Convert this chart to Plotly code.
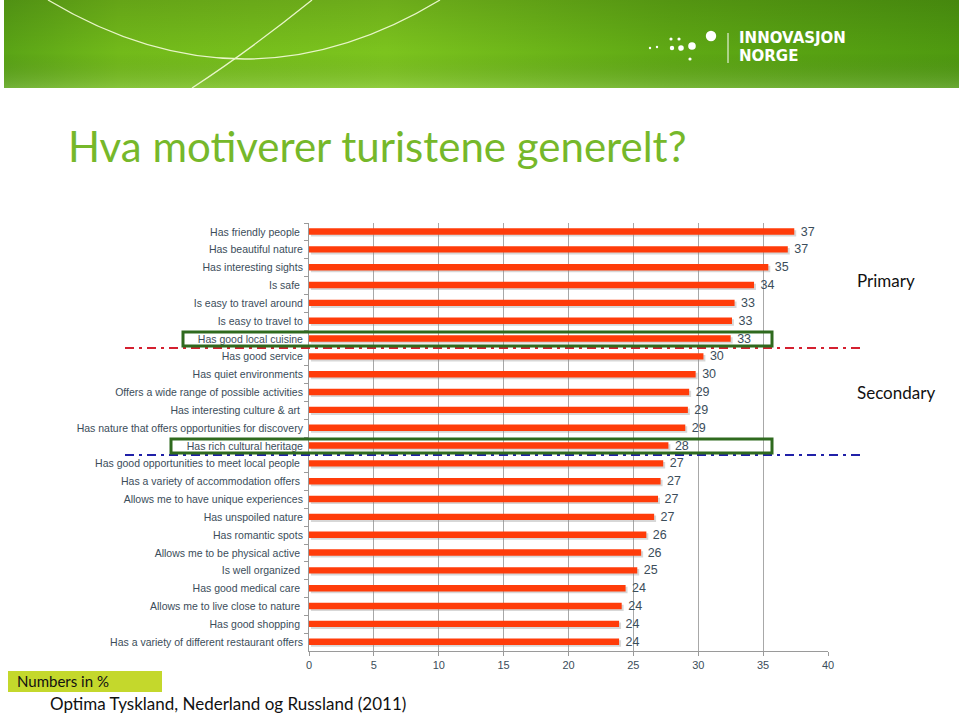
import plotly.graph_objects as go
from urllib.parse import quote

categories = [
    "Has friendly people ", "Has beautiful nature", "Has interesting sights", "Is safe ",
    "Is easy to travel around", "Is easy to travel to", "Has good local cuisine",
    "Has good service", "Has quiet environments", "Offers a wide range of possible activities",
    "Has interesting culture & art ", "Has nature that offers opportunities for discovery",
    "Has rich cultural heritage", "Has good opportunities to meet local people ",
    "Has a variety of accommodation offers ", "Allows me to have unique experiences",
    "Has unspoiled nature", "Has romantic spots", "Allows me to be physical active ",
    "Is well organized ", "Has good medical care ", "Allows me to live close to nature ",
    "Has good shopping ", "Has a variety of different restaurant offers",
]
values = [37.4, 36.9, 35.4, 34.3, 32.8, 32.6, 32.5, 30.4, 29.8, 29.3, 29.2, 29.0,
          27.7, 27.3, 27.1, 26.9, 26.6, 26.0, 25.6, 25.3, 24.4, 24.1, 23.9, 23.9]
x_ticks = [0, 5, 10, 15, 20, 25, 30, 35, 40]

W, H = 959, 713
L, R, T, B = 309, 828, 223, 651


def px(x):
    return (x - L) / (R - L)


def py(y):
    return (B - y) / (B - T)


fig = go.Figure()
# soft shadow under bars
fig.add_trace(go.Bar(
    y=categories, x=values, orientation="h", width=0.36, offset=-0.1, base=0.15,
    marker=dict(color="rgba(140,140,140,0.35)", line=dict(width=0)),
    hoverinfo="skip", showlegend=False,
))
fig.add_trace(go.Bar(
    y=categories, x=values, orientation="h", width=0.36, offset=-0.2,
    marker=dict(color="#ff3c0a", line=dict(width=0)),
    texttemplate=" %{x:.0f}", textposition="outside", constraintext="none",
    cliponaxis=False,
    textfont=dict(family="Liberation Sans, Arial", size=12.5, color="#3b4d5a"),
    showlegend=False,
))

fig.update_layout(
    width=W, height=H,
    margin=dict(l=L, r=W - R, t=T, b=H - B, pad=0),
    paper_bgcolor="white", plot_bgcolor="white",
    barmode="overlay",
    font=dict(family="Liberation Sans, Arial", color="#3b4d5a"),
)
fig.update_xaxes(
    range=[0, 40], tickvals=x_ticks, showgrid=True, gridcolor="#a8a8a8", gridwidth=1,
    showline=True, linecolor="#9a9a9a", linewidth=1, ticks="outside", ticklen=4,
    tickcolor="#9a9a9a", tickfont=dict(size=11, color="#3b4d5a"), zeroline=False,
)
fig.update_yaxes(
    autorange="reversed", showline=True, linecolor="#9a9a9a", linewidth=1,
    ticks="outside", ticklen=4, tickcolor="#9a9a9a", tickson="boundaries",
    tickfont=dict(size=10.5, color="#3b4d5a"), showgrid=False, ticklabelstandoff=3,
)

# banner background (gradient + curves) as an SVG image
svg = (
    "<svg xmlns='http://www.w3.org/2000/svg' width='959' height='88'>"
    "<defs><linearGradient id='g' x1='0' x2='1' y1='0' y2='0'>"
    "<stop offset='0' stop-color='#5aa416'/><stop offset='0.12' stop-color='#72ba1a'/>"
    "<stop offset='0.4' stop-color='#7cc41e'/><stop offset='0.7' stop-color='#5fa914'/>"
    "<stop offset='1' stop-color='#4f9a10'/></linearGradient>"
    "<linearGradient id='v' x1='0' x2='0' y1='0' y2='1'>"
    "<stop offset='0' stop-color='#000' stop-opacity='0.12'/>"
    "<stop offset='0.6' stop-color='#000' stop-opacity='0'/>"
    "<stop offset='1' stop-color='#fff' stop-opacity='0.15'/></linearGradient></defs>"
    "<rect x='4' width='955' height='88' fill='url(#g)'/>"
    "<rect x='4' width='955' height='88' fill='url(#v)'/>"
    "<path d='M48,0 Q245,118 440,0' stroke='#e8f5c8' stroke-width='1.3' fill='none'/>"
    "<path d='M312,0 Q250,50 192,88' stroke='#e8f5c8' stroke-width='1.3' fill='none'/>"
    "</svg>"
)
fig.add_layout_image(dict(
    source="data:image/svg+xml;charset=utf-8," + quote(svg),
    xref="paper", yref="paper", x=px(0), y=py(0), sizex=px(W) - px(0),
    sizey=py(0) - py(88), xanchor="left", yanchor="top", sizing="stretch", layer="below",
))

shapes = []
# logo dots
for cx, cy, r in [(650, 48, 1.2), (657, 47, 1.2), (671, 39, 1.6), (679, 39, 1.6),
                  (672, 48, 2.2), (681, 48, 2.8), (692, 46, 3.8), (711, 36, 5.2), (690, 59, 1.6)]:
    shapes.append(dict(type="circle", xref="paper", yref="paper", x0=px(cx - r), x1=px(cx + r),
                       y0=py(cy + r), y1=py(cy - r), fillcolor="white", line=dict(width=0)))
shapes.append(dict(type="line", xref="paper", yref="paper", x0=px(728), x1=px(728), y0=py(33), y1=py(63),
                   line=dict(color="white", width=1)))
# separator lines
shapes.append(dict(type="line", xref="paper", yref="paper", x0=px(125), x1=px(865), y0=py(348), y1=py(348),
                   line=dict(color="#d42030", width=2, dash="9px,5px,3px,5px")))
shapes.append(dict(type="line", xref="paper", yref="paper", x0=px(125), x1=px(865), y0=py(455), y1=py(455),
                   line=dict(color="#2020a8", width=2, dash="9px,5px,3px,5px")))
# highlight boxes
shapes.append(dict(type="rect", xref="paper", yref="paper", x0=px(183), x1=px(772), y0=py(346), y1=py(332),
                   line=dict(color="#2f6a1e", width=3), fillcolor="rgba(0,0,0,0)"))
shapes.append(dict(type="rect", xref="paper", yref="paper", x0=px(171), x1=px(772), y0=py(453), y1=py(439),
                   line=dict(color="#2f6a1e", width=3), fillcolor="rgba(0,0,0,0)"))
# numbers box
shapes.append(dict(type="rect", xref="paper", yref="paper", x0=px(8), x1=px(162), y0=py(692), y1=py(671),
                   fillcolor="#c4d82c", line=dict(width=0)))
fig.update_layout(shapes=shapes)

annots = [
    dict(text="<b>INNOVASJON</b>", x=px(737), y=py(38), xanchor="left", yanchor="middle",
         font=dict(family="DejaVu Sans", size=15, color="white")),
    dict(text="<b>NORGE</b>", x=px(737), y=py(56), xanchor="left", yanchor="middle",
         font=dict(family="DejaVu Sans", size=15, color="white")),
    dict(text="Hva motiverer turistene generelt?", x=px(66), y=py(146), xanchor="left", yanchor="middle",
         font=dict(family="Lato", size=42, color="#76b82a")),
    dict(text="Primary", x=px(886), y=py(280), xanchor="center", yanchor="middle",
         font=dict(family="Lato", size=17, color="#111")),
    dict(text="Secondary", x=px(896), y=py(392), xanchor="center", yanchor="middle",
         font=dict(family="Lato", size=17, color="#111")),
    dict(text="Numbers in %", x=px(15), y=py(681), xanchor="left", yanchor="middle",
         font=dict(family="Lato", size=15, color="#111")),
    dict(text="Optima Tyskland, Nederland og Russland (2011)", x=px(48), y=py(703), xanchor="left",
         yanchor="middle", font=dict(family="Lato", size=17, color="#111")),
]
for a in annots:
    a.update(xref="paper", yref="paper", showarrow=False)
    fig.add_annotation(**a)

fig.write_html("out.html", config={"displayModeBar": False},
               post_script="document.body.style.margin='0px';")
